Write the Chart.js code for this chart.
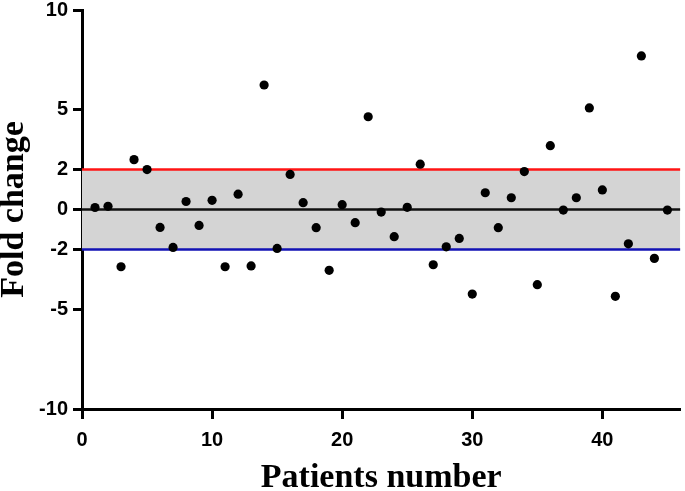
<!DOCTYPE html>
<html>
<head>
<meta charset="utf-8">
<script src="https://cdn.jsdelivr.net/npm/chart.js@4"></script>
<style>
  html, body { margin: 0; padding: 0; background: #fff; }
  #wrap { width: 685px; height: 491px; position: relative; }
</style>
</head>
<body>
<div id="wrap"><canvas id="myChart"></canvas></div>
<script>
// patients 1..45 and their fold change values
const patients = [1, 2, 3, 4, 5, 6, 7, 8, 9, 10, 11, 12, 13, 14, 15, 16, 17, 18, 19, 20, 21, 22, 23,
  24, 25, 26, 27, 28, 29, 30, 31, 32, 33, 34, 35, 36, 37, 38, 39, 40, 41, 42, 43, 44, 45];
const foldChange = [0.1, 0.16, -2.87, 2.5, 2.0, -0.9, -1.9, 0.4, -0.8, 0.46, -2.87, 0.77, -2.83, 6.24,
  -1.95, 1.76, 0.34, -0.91, -3.05, 0.24, -0.66, 4.65, -0.13, -1.36, 0.11, 2.27, -2.77, -1.87, -1.45,
  -4.24, 0.84, -0.91, 0.59, 1.9, -3.77, 3.2, -0.03, 0.59, 5.09, 0.98, -4.35, -1.72, 7.7, -2.45, -0.03];
const xTicks = [0, 10, 20, 30, 40];
const yTicks = [-10, -5, -2, 0, 2, 5, 10];
const upperLimit = 2;
const lowerLimit = -2;
const xRange = [0, 46];

const tickFont = { family: "'Liberation Sans', Arial, sans-serif", size: 20, weight: "bold", lineHeight: 0.8 };
const serif = "'Liberation Serif', 'Times New Roman', serif";

const hLine = (y) => xRange.map((x) => ({ x: x, y: y }));

const data = {
  datasets: [
    {
      label: "Fold change",
      data: patients.map((p, i) => ({ x: p, y: foldChange[i] })),
      backgroundColor: "#000",
      borderWidth: 0,
      pointRadius: 4.6,
      order: 0,
    },
    {
      label: "upper",
      data: hLine(upperLimit),
      showLine: true,
      borderColor: "#ff1414",
      borderWidth: 2.5,
      pointRadius: 0,
      fill: false,
      order: 1,
    },
    {
      label: "lower",
      data: hLine(lowerLimit),
      showLine: true,
      borderColor: "#1212b4",
      borderWidth: 2.5,
      pointRadius: 0,
      fill: "-1",
      backgroundColor: "#d4d4d4",
      order: 1,
    },
    {
      label: "zero",
      data: hLine(0),
      showLine: true,
      borderColor: "#111",
      borderWidth: 2.5,
      pointRadius: 0,
      fill: false,
      order: 1,
    },
  ],
};

const config = {
  type: "scatter",
  data,
  options: {
    responsive: true,
    maintainAspectRatio: false,
    animation: false,
    devicePixelRatio: 1,
    layout: { padding: { top: 10, right: 1, left: 0, bottom: 0 } },
    plugins: {
      legend: { display: false },
      tooltip: { enabled: false },
      filler: { drawTime: "beforeDatasetsDraw" },
    },
    scales: {
      x: {
        type: "linear",
        min: xRange[0],
        max: xRange[1],
        afterBuildTicks: (s) => { s.ticks = xTicks.map((v) => ({ value: v })); },
        afterFit: (s) => { s.height = 82; s.paddingRight = 0; },
        grid: { drawOnChartArea: false, drawTicks: true, tickLength: 10, tickWidth: 3, color: "#000" },
        border: { color: "#000", width: 3 },
        ticks: { color: "#000", font: tickFont, padding: 13, maxRotation: 0 },
        title: {
          display: true, text: "Patients number", color: "#000", padding: 0,
          font: { family: serif, size: 34, weight: "bold", lineHeight: 0.75 },
        },
      },
      y: {
        type: "linear",
        min: -10,
        max: 10,
        afterBuildTicks: (s) => { s.ticks = yTicks.map((v) => ({ value: v })); },
        afterFit: (s) => { s.width = 82; s.paddingTop = 0; s.paddingBottom = 0; },
        grid: { drawOnChartArea: false, drawTicks: true, tickLength: 9, tickWidth: 3, color: "#000" },
        border: { color: "#000", width: 3 },
        ticks: { color: "#000", font: tickFont, padding: 5 },
        title: {
          display: true, text: "Fold change", color: "#000", padding: 0,
          font: { family: serif, size: 34, weight: "bold", lineHeight: 0.85 },
        },
      },
    },
  },
};

var myChart = new Chart(document.getElementById("myChart"), config);
</script>
</body>
</html>
